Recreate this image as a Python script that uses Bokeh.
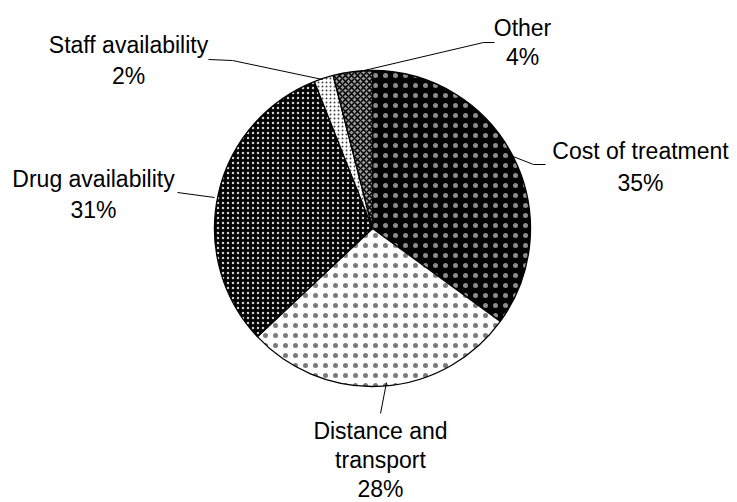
import math
from bokeh.plotting import figure
from bokeh.models import Range1d
from bokeh.core.properties import value
from bokeh.embed import file_html
from bokeh.resources import INLINE

# Reasons reported, in clockwise order starting from 12 o'clock
categories = ["Cost of treatment", "Distance and transport", "Drug availability",
              "Staff availability", "Other"]
shares = [35, 28, 31, 2, 4]

# how each label is broken into lines
label_lines = [["Cost of treatment"], ["Distance and", "transport"], ["Drug availability"],
               ["Staff availability"], ["Other"]]

# slice styling (fill / hatch)
fills = ["#000000", "#ffffff", "#000000", "#ffffff", "#9a9a9a"]
hatch_colors = ["#8c8c8c", "#7a7a7a", "#d0d0d0", "#444444", "#000000"]
hatch_patterns = ["dot", "dot", "dot", "dot", "diagonal_cross"]
hatch_scales = [10, 10, 5, 4, 6]
hatch_weights = [0.3, 0.4, 0.3, 0.5, 1.5]

W, H = 737, 502
CX, CY, R = 372, 228, 158   # pie centre / radius in screen pixels


def sy(y):
    # screen y (down) -> plot y (up)
    return H - y


p = figure(width=W, height=H, output_backend="svg", toolbar_location=None,
           x_range=Range1d(0, W), y_range=Range1d(0, H),
           x_axis_location=None, y_axis_location=None, min_border=0)
p.grid.visible = False
p.outline_line_color = None
p.background_fill_color = "white"
p.border_fill_color = "white"

total = float(sum(shares))
cum = 0.0
for i, v in enumerate(shares):
    start = math.pi / 2 - 2 * math.pi * cum / total
    cum += v
    end = math.pi / 2 - 2 * math.pi * cum / total
    p.wedge(x=CX, y=sy(CY), radius=R, start_angle=start, end_angle=end,
            direction="clock", fill_color=fills[i], line_color="black",
            line_width=1.3, hatch_pattern=hatch_patterns[i],
            hatch_color=hatch_colors[i], hatch_scale=hatch_scales[i],
            hatch_weight=hatch_weights[i])

# leader lines from labels to slices (screen px)
leaders = [
    [(510, 155), (533, 164), (545, 164)],          # cost
    [(386, 382), (380, 413)],                      # distance
    [(214, 197), (177, 192)],                      # drug
    [(322, 79), (232, 60), (208, 59)],             # staff
    [(355, 72), (483, 42), (494, 42)],             # other
]
p.multi_line(xs=[[pt[0] for pt in l] for l in leaders],
             ys=[[sy(pt[1]) for pt in l] for l in leaders],
             line_color="black", line_width=1)

# label anchors: centre x, y of the first line (screen px)
anchors = [(640, 150), (380, 430), (93, 178), (128, 44), (522, 27)]
gaps = [32, 29, 31, 31, 29]

tx, ty, tt = [], [], []
for lines, share, (ax, ay), gap in zip(label_lines, shares, anchors, gaps):
    all_lines = lines + [f"{share}%"]
    for i, s in enumerate(all_lines):
        tx.append(ax)
        ty.append(sy(ay + i * gap))
        tt.append(s)

p.text(x=tx, y=ty, text=tt, text_align="center", text_baseline="middle",
       text_font=value("Liberation Sans"), text_font_size="23px",
       text_color="black")

open("out.html", "w").write(file_html(p, INLINE))
